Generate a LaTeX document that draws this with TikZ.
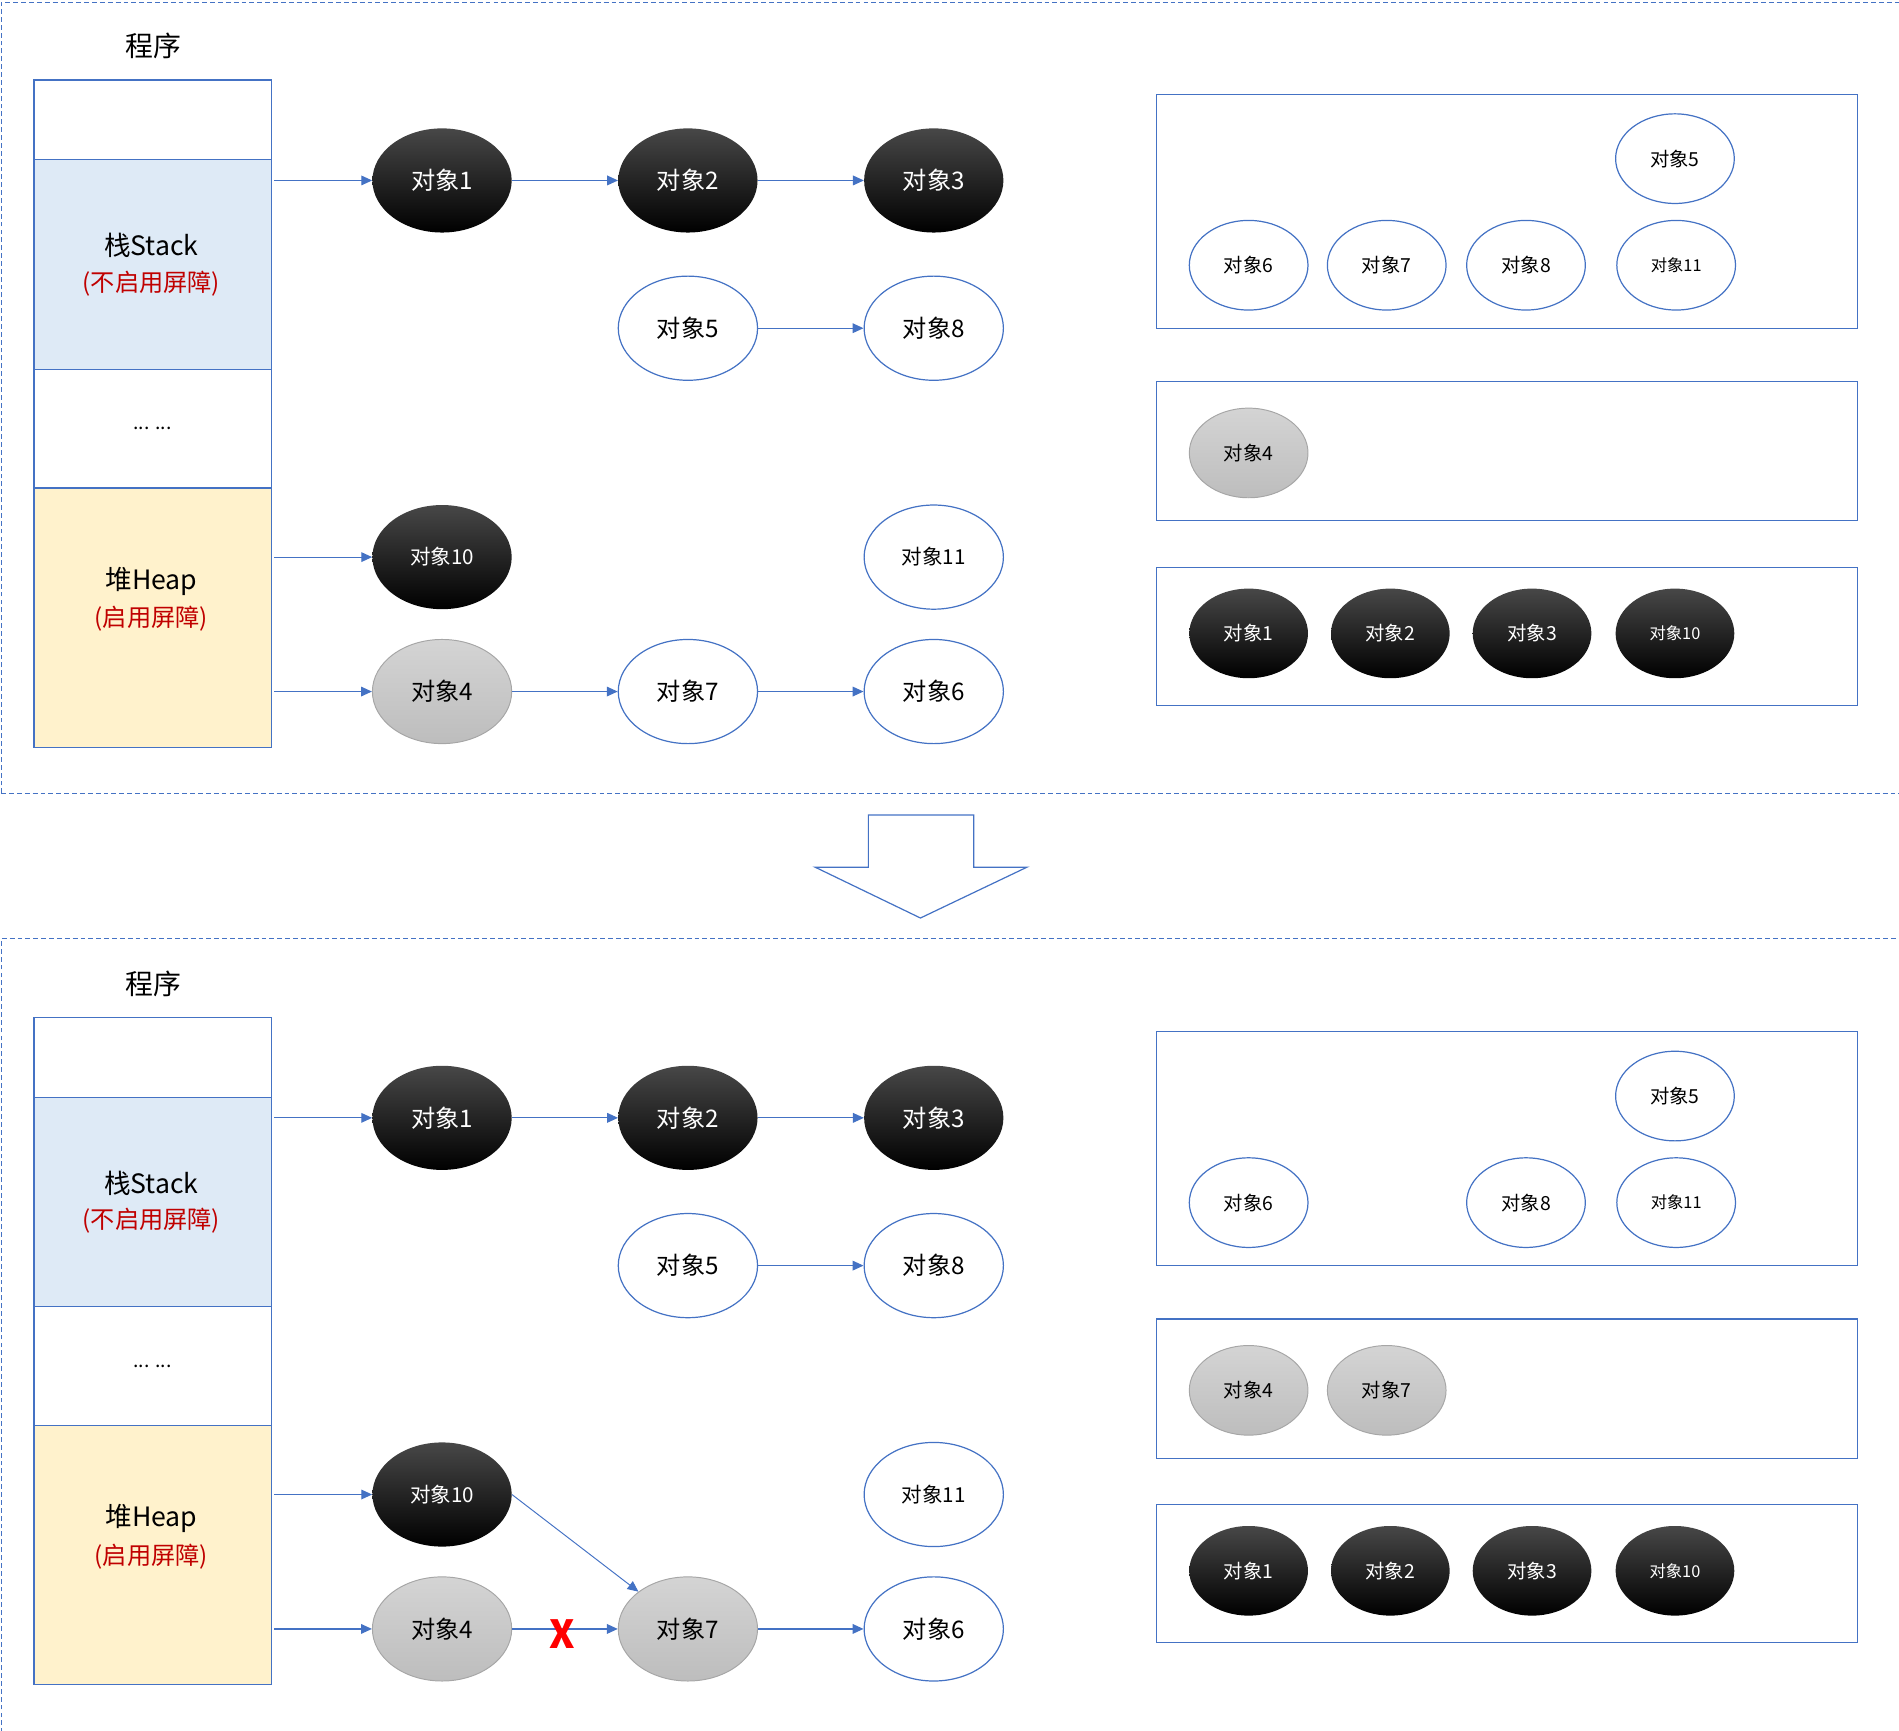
\documentclass[tikz,border=0pt]{standalone}
\usepackage{fontspec}
\setmainfont{Noto Sans CJK SC}
\usetikzlibrary{shapes.geometric,arrows.meta}
\definecolor{lblue}{HTML}{4472C4}
\definecolor{stackfill}{HTML}{DEEAF6}
\definecolor{heapfill}{HTML}{FFF2CC}
\definecolor{redtxt}{HTML}{C00000}
\definecolor{grayedge}{HTML}{A6A6A6}
\definecolor{graytop}{HTML}{D4D4D4}
\definecolor{graybot}{HTML}{BDBDBD}
\tikzset{
  blk/.style={draw=lblue,line width=1pt,inner sep=0pt},
  big/.style={ellipse,minimum width=115pt,minimum height=86pt,inner sep=0pt,font=\fontsize{20}{24}\selectfont},
  small/.style={ellipse,minimum width=98pt,minimum height=74pt,inner sep=0pt,font=\fontsize{16}{19}\selectfont},
  blackobj/.style={top color=black!72,middle color=black,bottom color=black,text=white},
  grayobj/.style={draw=grayedge,line width=0.8pt,top color=graytop,bottom color=graybot,text=black},
  whiteobj/.style={draw=lblue,line width=1pt,fill=white,text=black},
  sm/.style={font=\fontsize{13.5}{16}\selectfont},
  md/.style={font=\fontsize{17}{20}\selectfont},
  conn/.style={draw=lblue,line width=1pt,-{Triangle[length=9pt,width=8pt]}},
  panelline/.style={draw=lblue,line width=0.9pt,dash pattern=on 4pt off 2.5pt},
}
\newcommand\mypanel[2]{%
\begin{scope}[shift={(0,#2)}]
  \node at (127,38) {\fontsize{23}{27}\selectfont 程序};
  \node[blk,minimum width=196pt,minimum height=66pt] (#1r0) at (126,99) {};
  \node[blk,fill=stackfill,minimum width=196pt,minimum height=173pt] (#1stk) at (126,218.5) {};
  \node[blk,minimum width=196pt,minimum height=98pt] (#1dots) at (126,354) {\fontsize{16}{19}\selectfont ... ...};
  \node[blk,fill=heapfill,minimum width=196pt,minimum height=214pt] (#1heap) at (126,510) {};
  \node at (125,203) {\fontsize{22}{26}\selectfont 栈Stack};
  \node[text=redtxt] at (125,234) {\fontsize{20}{24}\selectfont (不启用屏障)};
  \node at (125,480) {\fontsize{22}{26}\selectfont 堆Heap};
  \node[text=redtxt] at (125,511) {\fontsize{20}{24}\selectfont (启用屏障)};
  \node[big,blackobj] (#1o1) at (365,149) {对象1};
  \node[big,blackobj] (#1o2) at (568,149) {对象2};
  \node[big,blackobj] (#1o3) at (771,149) {对象3};
  \node[big,whiteobj] (#1o5) at (568,271) {对象5};
  \node[big,whiteobj] (#1o8) at (771,271) {对象8};
  \node[big,blackobj,md] (#1o10) at (365,460) {对象10};
  \node[big,whiteobj,md] (#1o11) at (771,460) {对象11};
  \node[big,grayobj] (#1o4) at (365,571) {对象4};
  \node[big,whiteobj] (#1o6) at (771,571) {对象6};
  \draw[conn,shorten <=2pt] (#1stk.east|-#1o1) -- (#1o1);
  \draw[conn] (#1o1) -- (#1o2);
  \draw[conn] (#1o2) -- (#1o3);
  \draw[conn] (#1o5) -- (#1o8);
  \draw[conn,shorten <=2pt] (#1heap.east|-#1o10) -- (#1o10);
  \draw[conn,shorten <=2pt] (#1heap.east|-#1o4) -- (#1o4);
  \node[blk,minimum width=579pt,minimum height=193pt] (#1g1) at (1244.5,174.5) {};
  \node[blk,minimum width=579pt,minimum height=115pt] (#1g2) at (1244.5,372.5) {};
  \node[blk,minimum width=579pt,minimum height=114pt] (#1g3) at (1244.5,525.5) {};
  \node[small,whiteobj] (#1s5) at (1383,131) {对象5};
  \node[small,whiteobj] (#1s6) at (1031,219) {对象6};
  \node[small,whiteobj] (#1s8) at (1260,219) {对象8};
  \node[small,whiteobj,sm] (#1s11) at (1384,219) {对象11};
  \node[small,grayobj] (#1s4) at (1031,374) {对象4};
  \node[small,blackobj] (#1s1) at (1031,523) {对象1};
  \node[small,blackobj] (#1s2) at (1148,523) {对象2};
  \node[small,blackobj] (#1s3) at (1265,523) {对象3};
  \node[small,blackobj,sm] (#1s10) at (1383,523) {对象10};
\end{scope}}
\begin{document}
\begin{tikzpicture}[x=1pt,y=-1pt]
\useasboundingbox (0,0) rectangle (1568,1429);
% dashed panels
\draw[panelline] (1,655) -- (1,2) -- (1572,2);
\draw[panelline] (1,655) -- (1572,655);
\draw[panelline] (1,1431) -- (1,775) -- (1572,775);
% top panel
\mypanel{a}{0}
\node[big,whiteobj] (ao7) at (568,571) {对象7};
\draw[conn] (ao4) -- (ao7);
\draw[conn] (ao7) -- (ao6);
\node[small,whiteobj] (as7) at (1145,219) {对象7};
% big arrow
\draw[draw=lblue,line width=1pt,line join=miter] (717,673) -- (804,673) -- (804,716) -- (848,716) -- (760,758) -- (673,716) -- (717,716) -- cycle;
% bottom panel
\mypanel{b}{774}
\node[big,grayobj] (bo7) at (568,1345) {对象7};
\draw[conn] (bo4) -- (bo7);
\draw[conn] (bo7) -- (bo6);
\draw[conn,line width=0.8pt] (bo10.east) -- (bo7.143);
\node[text=red,inner sep=0pt] (bx) at (464,1349) {\fontsize{32}{36}\selectfont\bfseries X};
\node[small,grayobj] (bs7) at (1145,1148) {对象7};
\end{tikzpicture}
\end{document}
